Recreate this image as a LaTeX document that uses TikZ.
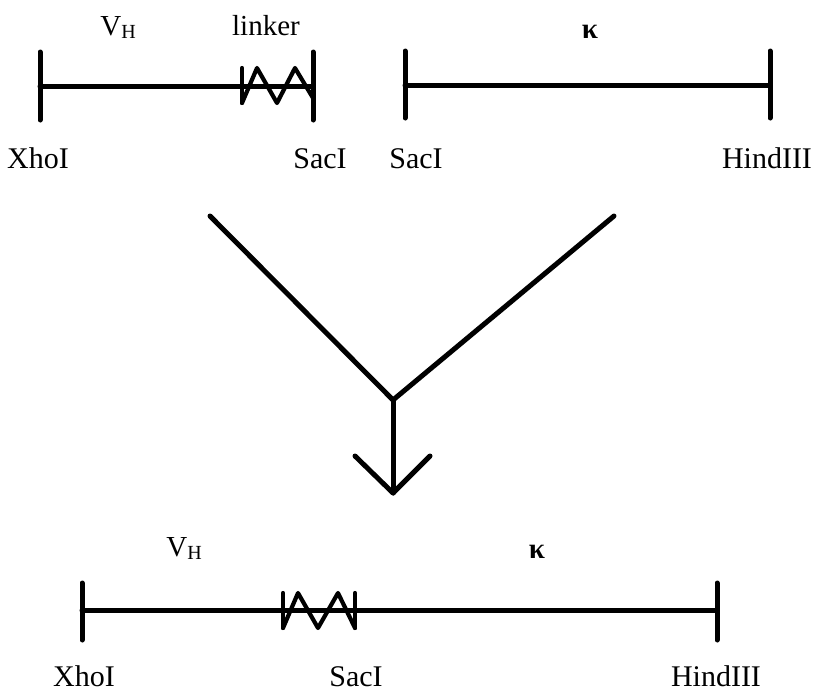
\documentclass[tikz,border=0pt]{standalone}
\usepackage{fontspec}
\setmainfont{Liberation Serif}
\usetikzlibrary{calc}

\begin{document}
\begin{tikzpicture}[x=1pt, y=-1pt, line cap=round, line join=round,
    seg/.style={line width=5pt},
    zig/.style={line width=4.2pt},
    site/.style={anchor=base, inner sep=0pt, font=\fontsize{30}{36}\selectfont},
    part/.style={anchor=base, inner sep=0pt, font=\fontsize{29}{34}\selectfont}]
  \useasboundingbox (0,0) rectangle (815,691);
  % ---------------------------------------------------------------- the two fragments
  % V_H with the linker, cut XhoI ... SacI
  \coordinate (vhL) at (40,86);
  \coordinate (vhR) at (313,86);
  \draw[seg] (vhL) -- (vhR);
  \draw[seg] ($(vhL)+(0,-34)$) -- ($(vhL)+(0,34)$);
  \draw[seg] ($(vhR)+(0,-34)$) -- ($(vhR)+(0,34)$);
  % the linker
  \draw[zig] (242,68) -- (242,103);
  \draw[zig] (242,103) -- (257,68) -- (277,103) -- (295,68) -- (313,98);
  \node[part] (vh) at (118,35) {V\raisebox{-0.3ex}{\fontsize{20}{20}\selectfont H}};
  \node[part] (lnk) at (266,35) {linker};
  \node[site] (xho) at (38,168) {XhoI};
  \node[site] (sac) at (320,168) {SacI};
  % kappa, cut SacI ... HindIII
  \coordinate (kL) at (405,85);
  \coordinate (kR) at (770,85);
  \draw[seg] (kL) -- (kR);
  \draw[seg] ($(kL)+(0,-34)$) -- ($(kL)+(0,33)$);
  \draw[seg] ($(kR)+(0,-34)$) -- ($(kR)+(0,33)$);
  \node[part] (kap) at (590,38) {\textbf{κ}};
  \node[site] (sacb) at (416,168) {SacI};
  \node[site] (hin) at (767,168) {HindIII};
  % ---------------------------------------------------------------- joined together
  \coordinate (jl) at (210,216);
  \coordinate (jr) at (614,216);
  \coordinate (jm) at (393,400);
  \coordinate (tip) at (393,493);
  \draw[seg] (jl) -- (jm) -- (jr);
  \draw[seg] (jm) -- (tip);
  \draw[seg] (355,456) -- (tip) -- (430,456);
  % ---------------------------------------------------------------- the joined fragment
  \coordinate (fL) at (82,610);
  \coordinate (fR) at (717,610);
  \draw[seg] (fL) -- (fR);
  \draw[seg] ($(fL)+(0,-27)$) -- ($(fL)+(0,30)$);
  \draw[seg] ($(fR)+(0,-27)$) -- ($(fR)+(0,30)$);
  % the linker
  \draw[zig] (283,593) -- (283,628);
  \draw[zig] (283,628) -- (298,593) -- (318,628) -- (338,593) -- (355,628);
  \draw[zig] (355,593) -- (355,628);
  \node[part] (vhb) at (184,556) {V\raisebox{-0.3ex}{\fontsize{20}{20}\selectfont H}};
  \node[part] (kapb) at (537,558) {\textbf{κ}};
  \node[site] (xhob) at (84,686) {XhoI};
  \node[site] (sacc) at (356,686) {SacI};
  \node[site] (hinb) at (716,686) {HindIII};
\end{tikzpicture}
\end{document}
